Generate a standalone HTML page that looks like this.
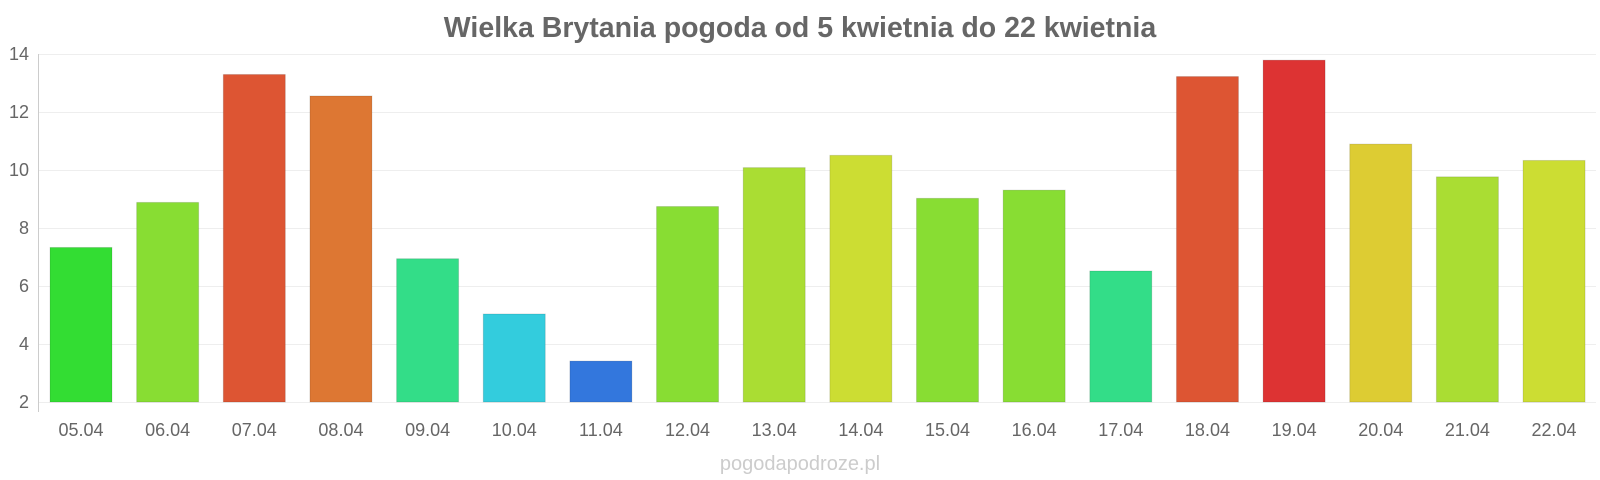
<!DOCTYPE html>
<html><head><meta charset="utf-8"><style>
body{margin:0;background:#fff;}
svg{display:block;font-family:"Liberation Sans",sans-serif;}
</style></head><body>
<svg width="1600" height="480" xmlns="http://www.w3.org/2000/svg">
<text x="800" y="37" text-anchor="middle" font-size="28.5" font-weight="bold" fill="#666">Wielka Brytania pogoda od 5 kwietnia do 22 kwietnia</text>
<g id="grid" stroke="#eee" stroke-width="1"></g>
<line x1="38.5" x2="38.5" y1="54" y2="412" stroke="#ccc"/>
<g id="ticks" font-size="18" fill="#666" text-anchor="end"></g>
<g id="bars" stroke-width="1"></g>
<g id="labels" font-size="18" fill="#666" text-anchor="middle"></g>
<text x="800" y="470" text-anchor="middle" font-size="20" fill="#ccc">pogodapodroze.pl</text>
</svg>
<script>
(function(){
var ns="http://www.w3.org/2000/svg";
function Y(v){return 402-(v-2)*29;}
var g=document.getElementById("grid"),tk=document.getElementById("ticks");
for(var v=2;v<=14;v+=2){var ln=document.createElementNS(ns,"line");ln.setAttribute("x1",38);ln.setAttribute("x2",1596);ln.setAttribute("y1",Y(v)+0.5);ln.setAttribute("y2",Y(v)+0.5);g.appendChild(ln);
var t=document.createElementNS(ns,"text");t.setAttribute("x",29);t.setAttribute("y",Y(v)+6);t.textContent=v;tk.appendChild(t);}
var old=[242,198,73,94,253,307,353,202,164,152,194,186,265,75,59,141,173,157];
var cols=["#33dd33","#88dd33","#dd5533","#dd7733","#33dd88","#33ccdd","#3377dd","#88dd33","#aadd33","#ccdd33","#88dd33","#88dd33","#33dd88","#dd5533","#dd3333","#ddcc33","#aadd33","#ccdd33"];
var labs=["05.04","06.04","07.04","08.04","09.04","10.04","11.04","12.04","13.04","14.04","15.04","16.04","17.04","18.04","19.04","20.04","21.04","22.04"];
var b=document.getElementById("bars"),l=document.getElementById("labels");
for(var i=0;i<18;i++){var x=50+i*86.65;var ty=402-(393-old[i])*1.0235;
var r=document.createElementNS(ns,"rect");r.setAttribute("x",x);r.setAttribute("y",ty);r.setAttribute("width",62);r.setAttribute("height",402-ty);r.setAttribute("fill",cols[i]);r.setAttribute("stroke","rgba(0,0,0,0.12)");b.appendChild(r);
var t=document.createElementNS(ns,"text");t.setAttribute("x",x+31);t.setAttribute("y",436);t.textContent=labs[i];l.appendChild(t);}
})();
</script>
</body></html>
